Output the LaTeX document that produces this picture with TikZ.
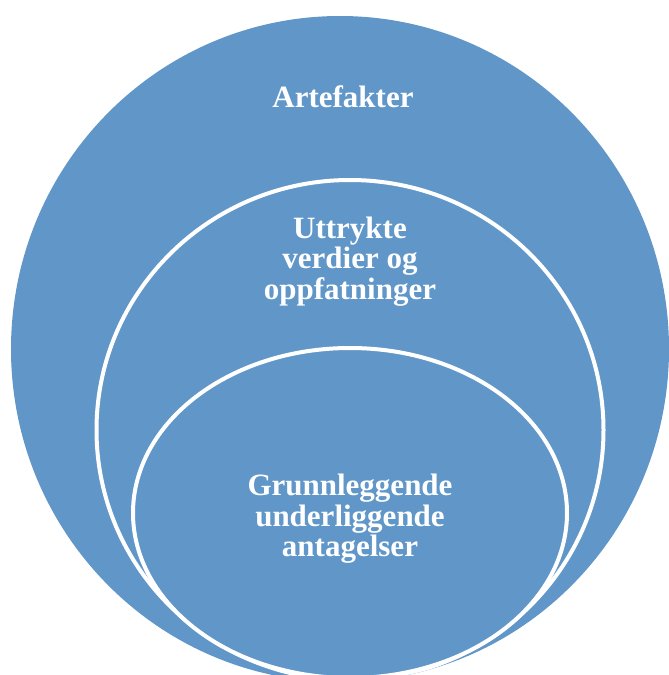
\documentclass[tikz,border=0pt]{standalone}
\usepackage{fontspec}
\setmainfont{Liberation Serif}
\usepackage{tikz}
\definecolor{lagblue}{RGB}{96,150,200}
\tikzset{lagfill/.style={fill=lagblue, draw=white, line width=4pt}}
\tikzset{lagtext/.style={text=white, font=\fontsize{31}{30.5}\selectfont\bfseries, align=center, inner sep=0pt}}

\begin{document}
\begin{tikzpicture}[x=1pt,y=-1pt]
        \useasboundingbox (0,0) rectangle (669,675);
        \clip (0,0) rectangle (669,675);
        %outer layer
        \fill[lagblue] (340,349) ellipse [x radius=329, y radius=333];
        %inner layers
        \begin{scope}
        \clip (340,349) ellipse [x radius=329, y radius=333];
        \draw[lagfill] (350,430) ellipse [x radius=253.5, y radius=250];
        \draw[lagfill] (350,513) ellipse [x radius=217, y radius=165];
        \end{scope}
        
        %labels
        \node[lagtext, anchor=base] (artefakter) at (343,107) {Artefakter};
        \node[lagtext] (verdier) at (350,261.5) {Uttrykte\\verdier og\\oppfatninger};
        \node[lagtext] (antagelser) at (350,519) {Grunnleggende\\underliggende\\antagelser};
\end{tikzpicture}
\end{document}
